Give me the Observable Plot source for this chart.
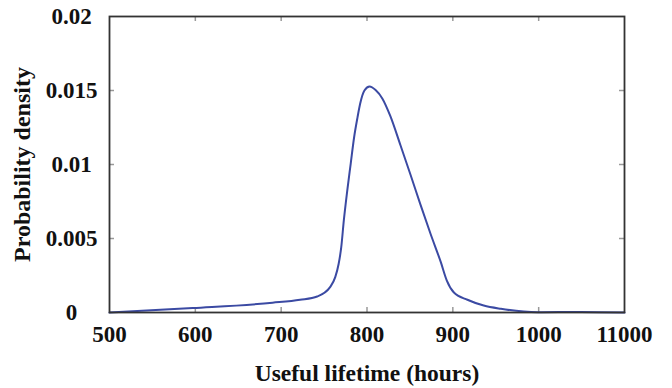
<!DOCTYPE html>
<html>
<head>
<meta charset="utf-8">
<script src="https://cdn.jsdelivr.net/npm/d3@7"></script>
<script src="https://cdn.jsdelivr.net/npm/@observablehq/plot@0.6"></script>
<style>
  html, body { margin: 0; padding: 0; background: #fff; }
  #chart svg { display: block; }
</style>
</head>
<body>
<div id="chart"></div>
<script>
// Useful lifetime (hours) and probability density
const lifetime = [500, 597, 690, 722, 742, 757, 763, 767, 770, 773, 777, 781, 785, 789, 792, 797, 803, 810, 818, 827, 839, 851, 862, 874, 886, 893, 901, 917, 936, 956, 999, 1049, 1100];
const density  = [0, 0.0003, 0.00066, 0.00086, 0.00108, 0.00171, 0.00239, 0.00329, 0.00441, 0.00622, 0.00824, 0.01005, 0.01184, 0.0132, 0.0141, 0.015, 0.01527, 0.01503, 0.01445, 0.0133, 0.0113, 0.00926, 0.00734, 0.00532, 0.0034, 0.00216, 0.00137, 0.00086, 0.00047, 0.00025, 0.00002, 0.00004, 0];

const xTicks = [500, 600, 700, 800, 900, 1000, 1100];
const xTickLabels = ["500", "600", "700", "800", "900", "1000", "11000"];
const yTicks = [0, 0.005, 0.01, 0.015, 0.02];
const yTickLabels = ["0", "0.005", "0.01", "0.015", "0.02"];

const xTitle = "Useful lifetime (hours)";
const yTitle = "Probability density";

const data = lifetime.map((x, i) => ({x, y: density[i]}));

const serif = "'Liberation Serif', 'DejaVu Serif', serif";

const chart = Plot.plot({
  width: 672,
  height: 388,
  marginTop: 16,
  marginRight: 48,
  marginBottom: 76,
  marginLeft: 109,
  style: {background: "#fff", color: "#111", fontFamily: serif, fontWeight: "bold", fontSize: "23px"},
  x: {type: "linear", domain: [500, 1100]},
  y: {type: "linear", domain: [0, 0.02]},
  marks: [
    // inner tick marks on all four sides
    Plot.ruleX(xTicks.slice(1, -1), {stroke: "#999", strokeWidth: 1.5, insetTop: 291}),
    Plot.ruleX(xTicks.slice(1, -1), {stroke: "#999", strokeWidth: 1.5, insetBottom: 291}),
    Plot.ruleY(yTicks.slice(1, -1), {stroke: "#999", strokeWidth: 1.5, insetRight: 510}),
    Plot.ruleY(yTicks.slice(1, -1), {stroke: "#999", strokeWidth: 1.5, insetLeft: 510}),
    Plot.line(data, {x: "x", y: "y", stroke: "#3b4aa3", strokeWidth: 2, curve: "monotone-x"}),
    Plot.frame({stroke: "#333", strokeWidth: 1.8}),
    Plot.axisX(xTicks, {
      tickSize: 0, tickPadding: 13, fontSize: 23, fill: "#111",
      tickFormat: (d) => xTickLabels[xTicks.indexOf(d)], label: null
    }),
    Plot.axisY(yTicks, {
      tickSize: 0, tickPadding: 38, textAnchor: "middle", fontSize: 23, fill: "#111",
      tickFormat: (d) => yTickLabels[yTicks.indexOf(d)], label: null
    }),
    Plot.text([xTitle], {frameAnchor: "bottom", dy: 61, lineAnchor: "middle", textAnchor: "middle", fontSize: 23.5, fill: "#111"}),
    Plot.text([yTitle], {frameAnchor: "left", dx: -87, rotate: -90, lineAnchor: "middle", textAnchor: "middle", fontSize: 24, fill: "#111"})
  ]
});

document.getElementById("chart").appendChild(chart);
</script>
</body>
</html>
